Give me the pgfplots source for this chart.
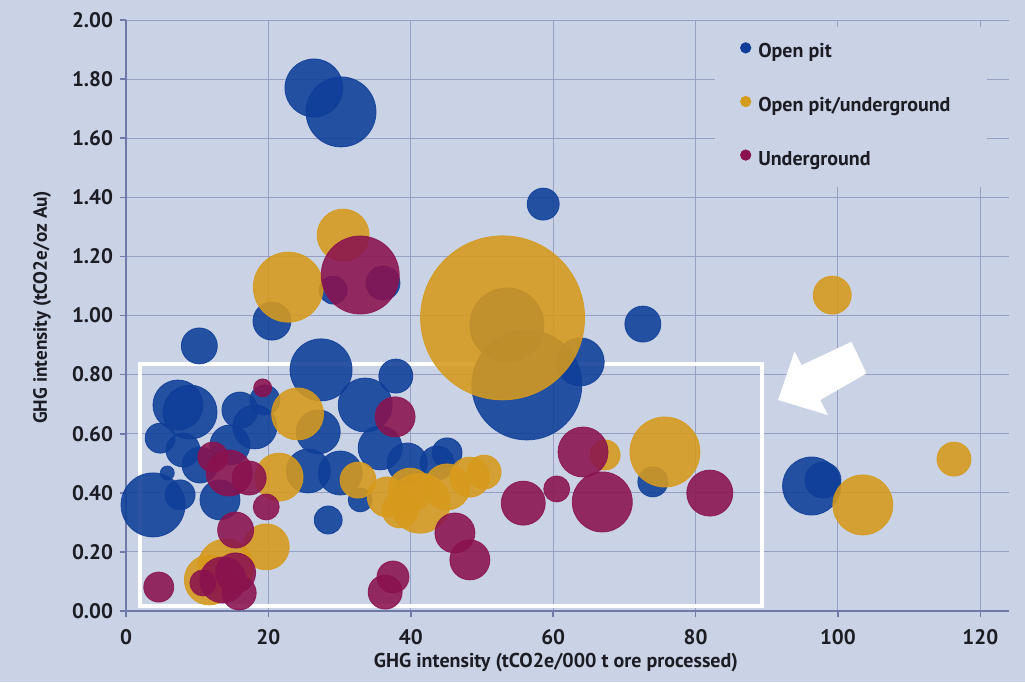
\documentclass[border=0pt]{standalone}
\usepackage{pgfplots}
\pgfplotsset{compat=1.18}
\usepackage{pgfplotstable}
\usepackage{fontspec}
\setmainfont{PT Sans}
\definecolor{bgc}{RGB}{202,211,229}
\definecolor{gridc}{RGB}{150,160,196}
\definecolor{axc}{RGB}{112,122,168}
\definecolor{opblue}{RGB}{14,62,152}
\definecolor{opgold}{RGB}{214,154,28}
\definecolor{ugmar}{RGB}{138,18,78}
\definecolor{txt}{RGB}{28,28,36}

\pgfplotstableread{
x y r
26.4 1.770 14.5
30.2 1.689 17.5
58.6 1.377 8
72.6 0.971 9
20.5 0.981 9.5
10.3 0.897 9
27.4 0.816 15.5
37.9 0.795 8.5
36.1 1.110 8.5
29.1 1.086 7
56.3 0.765 27.5
63.8 0.843 12
53.5 0.968 18.5
3.8 0.359 16
4.8 0.585 7.5
5.8 0.467 3.5
7.3 0.697 12.5
9.0 0.673 13.5
8.0 0.545 8.5
7.6 0.393 7.5
16.0 0.680 9
13.2 0.376 10
18.1 0.623 11
10.4 0.494 9
14.6 0.562 10
19.5 0.714 7.5
27.0 0.606 11
25.6 0.474 11
28.4 0.308 7
33.6 0.697 13.5
35.7 0.552 11
30.1 0.467 11
32.9 0.376 6
39.5 0.501 10
45.1 0.535 7.5
43.7 0.501 8.5
74.0 0.437 7.5
96.3 0.423 14.5
97.9 0.443 9
}\bluetbl

\pgfplotstableread{
x y r
99.2 1.069 9.5
30.5 1.272 13
22.8 1.096 17.5
52.9 0.992 41
24.1 0.667 13
21.5 0.453 12
19.7 0.217 11.5
14.0 0.149 14
11.7 0.105 12.5
32.6 0.443 9
36.7 0.386 10
41.3 0.365 15
39.9 0.409 11
45.1 0.420 11.5
48.3 0.453 10
50.3 0.470 8.5
38.5 0.342 9
67.3 0.528 7.5
75.7 0.538 17.5
103.5 0.359 15
116.3 0.514 8.5
}\goldtbl

\pgfplotstableread{
x y r
32.9 1.137 19.5
19.2 0.755 4.5
37.8 0.657 10
12.2 0.521 7.5
14.5 0.467 11.5
17.3 0.450 8.5
19.7 0.352 6.5
15.4 0.274 9
13.6 0.105 11.5
10.8 0.095 6.5
15.4 0.129 10
15.9 0.061 8.5
4.6 0.081 7.5
46.2 0.264 10
48.3 0.173 10
37.5 0.115 8
36.4 0.064 8.5
64.2 0.538 12.5
66.9 0.369 15
60.5 0.413 6.5
55.8 0.365 11
82.0 0.399 11.5
}\martbl

\begin{document}
\begin{tikzpicture}
\fill[bgc] (-63pt,-35.5pt) rectangle (449.5pt,305.5pt);
\begin{axis}[
  at={(0pt,0pt)}, anchor=south west,
  scale only axis, width=441.4pt, height=295.5pt,
  xmin=0, xmax=124, ymin=0, ymax=2,
  clip=false,
  axis x line*=bottom, axis y line*=left,
  axis line style={axc, line width=0.8pt},
  xtick={0,20,40,60,80,100,120},
  ytick={0,0.2,0.4,0.6,0.8,1.0,1.2,1.4,1.6,1.8,2.0},
  /pgf/number format/assume math mode=true,
  xticklabel={\pgfmathprintnumber{\tick}},
  yticklabel={\pgfmathprintnumber[fixed,fixed zerofill,precision=2]{\tick}},
  grid=major,
  major grid style={gridc, line width=0.5pt},
  tick align=outside, major tick length=3pt,
  tick style={axc, line width=0.8pt},
  ticklabel style={font=\bfseries\fontsize{10.5}{12}\selectfont, text=txt},
  xticklabel style={yshift=-2.5pt},
  xlabel={GHG intensity (tCO2e/000 t ore processed)},
  ylabel={GHG intensity (tCO2e/oz Au)},
  xlabel style={font=\bfseries\fontsize{10}{12}\selectfont, text=txt, at={(axis description cs:0.487,-0.088)}, anchor=center},
  ylabel style={font=\bfseries\fontsize{9.6}{12}\selectfont, text=txt, at={(axis description cs:-0.095,0.514)}, anchor=center, rotate=0},
  legend style={at={(axis cs:86.2,1.926)}, anchor=north west, draw=none, fill=none,
    inner sep=0pt, row sep=17pt, column sep=3.5pt,
    font=\bfseries\fontsize{10}{12}\selectfont, text=txt,
    nodes={inner sep=0pt, text height=7.2pt, text depth=2pt}},
  legend cell align=left,
]
\addlegendimage{legend image code/.code={\fill[opblue] (2.6pt,2.4pt) circle (2.6pt);}}
\addlegendentry{Open pit}
\addlegendimage{legend image code/.code={\fill[opgold] (2.6pt,2.4pt) circle (2.6pt);}}
\addlegendentry{Open pit/underground}
\addlegendimage{legend image code/.code={\fill[ugmar] (2.6pt,2.4pt) circle (2.6pt);}}
\addlegendentry{Underground}

\addplot[scatter, only marks, mark=*, forget plot,
  scatter/use mapped color={draw=opblue, fill=opblue, opacity=0.88},
  visualization depends on={\thisrow{r}\as\rad},
  scatter/@pre marker code/.append style={/tikz/mark size=\rad}]
  table[x=x,y=y]{\bluetbl};
\addplot[scatter, only marks, mark=*, forget plot,
  scatter/use mapped color={draw=opgold, fill=opgold, opacity=0.88},
  visualization depends on={\thisrow{r}\as\rad},
  scatter/@pre marker code/.append style={/tikz/mark size=\rad}]
  table[x=x,y=y]{\goldtbl};
\addplot[scatter, only marks, mark=*, forget plot,
  scatter/use mapped color={draw=ugmar, fill=ugmar, opacity=0.88},
  visualization depends on={\thisrow{r}\as\rad},
  scatter/@pre marker code/.append style={/tikz/mark size=\rad}]
  table[x=x,y=y]{\martbl};

\fill[bgc] (axis cs:82.7,1.975) rectangle (axis cs:120.9,1.435);
\draw[white, line width=2pt] (axis cs:1.97,0.836) rectangle (axis cs:89.3,0.017);
\fill[white] (axis cs:91.6,0.714) -- (axis cs:93.9,0.878) -- (axis cs:94.9,0.832)
  -- (axis cs:101.9,0.911) -- (axis cs:104.0,0.804) -- (axis cs:97.5,0.714)
  -- (axis cs:98.6,0.663) -- cycle;
\end{axis}
\end{tikzpicture}
\end{document}
